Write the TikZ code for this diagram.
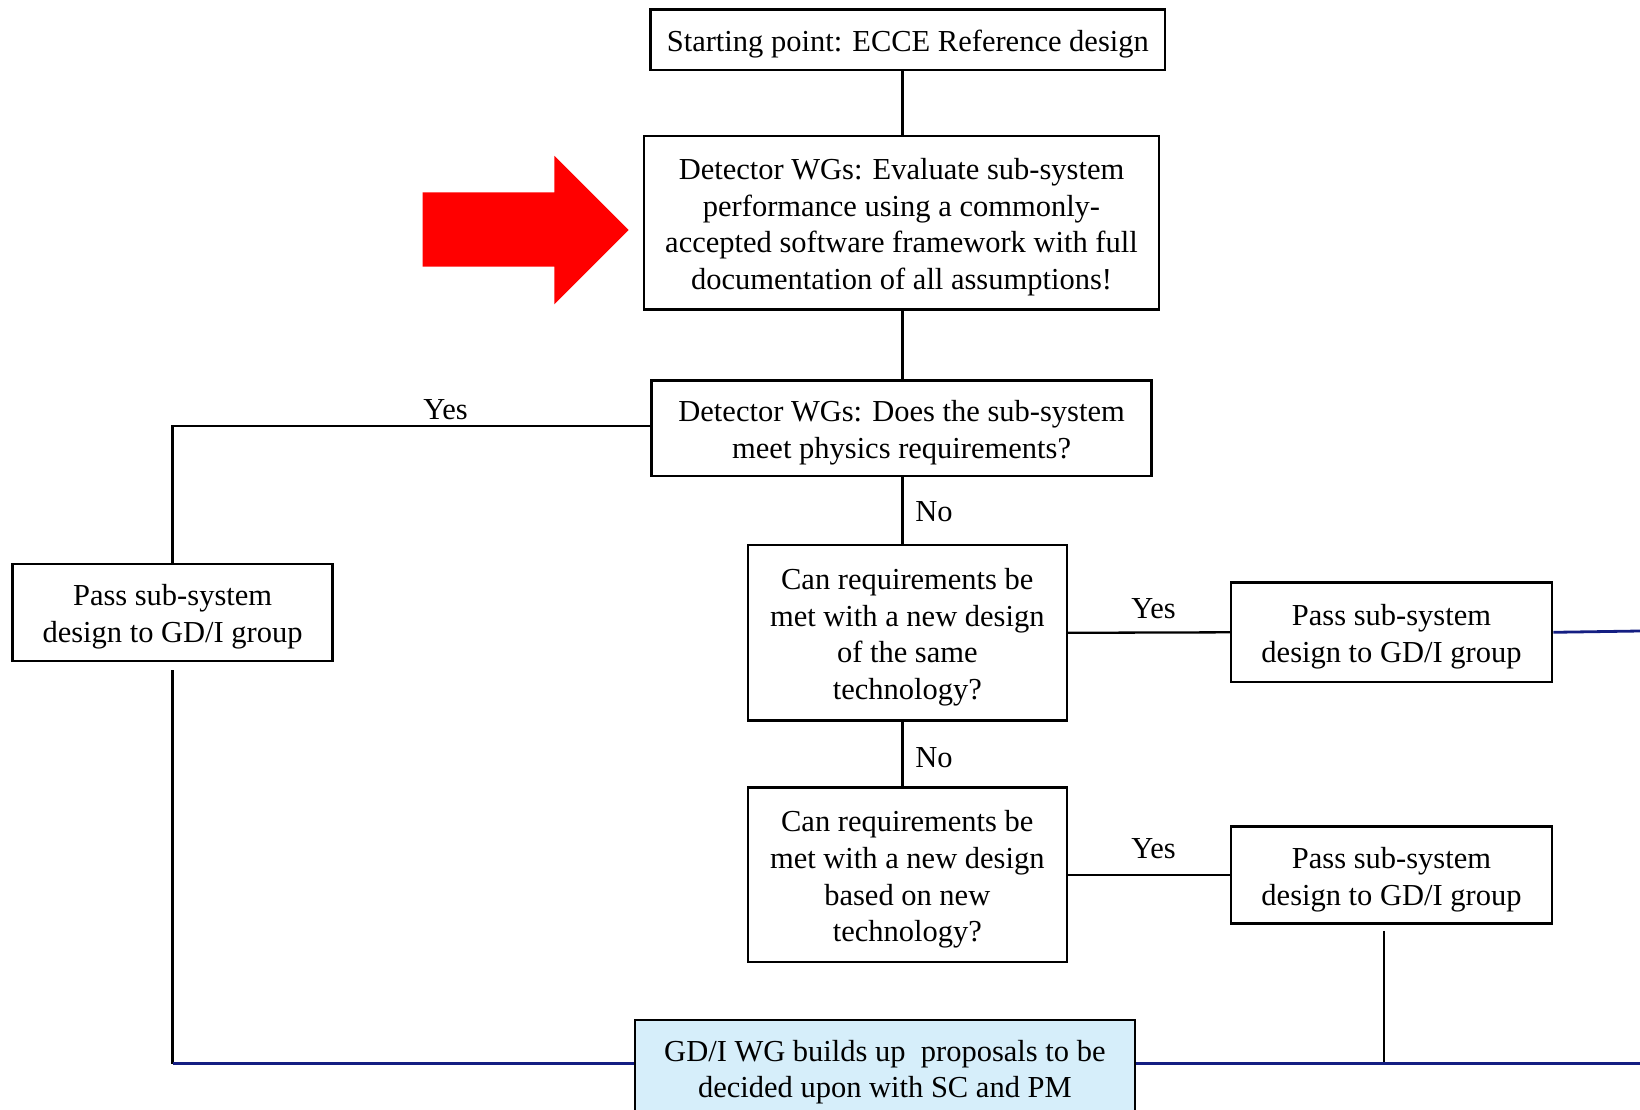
\documentclass[tikz,border=0pt]{standalone}
\usepackage{fontspec}
\setmainfont{Liberation Serif}
\definecolor{navyline}{RGB}{20,30,130}
\definecolor{lightfill}{RGB}{214,238,250}
\newcommand{\boxtext}[1]{\raisebox{-4.5pt}[\height][\depth]{\begin{tabular}{@{}c@{}}#1\end{tabular}}}
\tikzset{
  box/.style={draw, line width=2.5pt, inner sep=0pt,
    font=\fontsize{30.5}{36.6}\selectfont},
  lbl/.style={inner sep=0pt, font=\fontsize{30.5}{36.6}\selectfont},
  conn/.style={line width=2.3pt},
  blueconn/.style={line width=2.8pt, draw=navyline},
}
\begin{document}
\begin{tikzpicture}[x=1pt,y=-1pt]
\clip (0,0) rectangle (1640,1110);
\fill[white] (0,0) rectangle (1640,1110);

\node[box, minimum width=514.5pt, minimum height=60.6pt] (start) at (907.8,39.7) {\boxtext{Starting point: ECCE Reference design}};
\node[box, minimum width=515pt, minimum height=173.6pt] (eval) at (901.5,222.8) {\boxtext{Detector WGs: Evaluate sub-system\\performance using a commonly-\\accepted software framework with full\\documentation of all assumptions!}};
\node[box, minimum width=500pt, minimum height=95.2pt] (meet) at (901.6,428.3) {\boxtext{Detector WGs: Does the sub-system\\meet physics requirements?}};
\node[box, minimum width=320pt, minimum height=97.3pt] (passL) at (172.6,612.4) {\boxtext{Pass sub-system\\design to GD/I group}};
\node[box, minimum width=319pt, minimum height=175.6pt] (same) at (907.3,632.8) {\boxtext{Can requirements be\\met with a new design\\of the same\\technology?}};
\node[box, minimum width=321pt, minimum height=99.4pt] (passR1) at (1391.5,632.3) {\boxtext{Pass sub-system\\design to GD/I group}};
\node[box, minimum width=319pt, minimum height=174.6pt] (newtech) at (907.3,874.9) {\boxtext{Can requirements be\\met with a new design\\based on new\\technology?}};
\node[box, minimum width=321pt, minimum height=97.2pt] (passR2) at (1391.5,874.9) {\boxtext{Pass sub-system\\design to GD/I group}};
\node[box, fill=lightfill, minimum width=500pt, minimum height=96pt] (gdi) at (884.9,1067.8) {\boxtext{GD/I WG builds up\ \ proposals to be\\decided upon with SC and PM}};

% red arrow
\fill[red] (422.5,192.4) -- (554.3,192.4) -- (554.3,155.8) -- (628.6,230) -- (554.3,304.4) -- (554.3,266.7) -- (422.5,266.7) -- cycle;

% spine connectors
\coordinate (sx) at (902.6,0);
\draw[conn] (start.south -| sx) -- (eval.north -| sx);
\draw[conn] (eval.south -| sx) -- (meet.north -| sx);
\draw[conn] (meet.south -| sx) -- (same.north -| sx);
\draw[conn] (same.south -| sx) -- (newtech.north -| sx);

% left yes branch
\draw[conn] ([yshift=2.5pt]meet.west) -- ([yshift=2.5pt]meet.west -| passL.north) -- (passL.north);
% right yes branches
\draw[conn] (same.east) -- (passR1.west);
\draw[conn] (newtech.east) -- (passR2.west);

% labels
\node[lbl] (y1) at (445.5,410) {Yes};
\node[lbl] (n1) at (934,511.4) {No};
\node[lbl] (y2) at (1153.6,608.7) {Yes};
\node[lbl] (n2) at (934,757.2) {No};
\node[lbl] (y3) at (1153.6,848.2) {Yes};

% bottom connections
\coordinate (bl) at (172.6,1063.7);
\coordinate (br) at (1383.7,1063.7);
\coordinate (edgeB) at (1640,1063.7);
\coordinate (edgeR) at (1640,631);
\draw[conn] ([yshift=-8pt]passL.south) -- (bl);
\draw[conn] (1383.7,930.8) -- (br);
\draw[blueconn] (bl) -- (gdi.west |- bl);
\draw[blueconn] (gdi.east |- br) -- (edgeB);
\draw[blueconn] (passR1.east) -- (edgeR);
\end{tikzpicture}
\end{document}
